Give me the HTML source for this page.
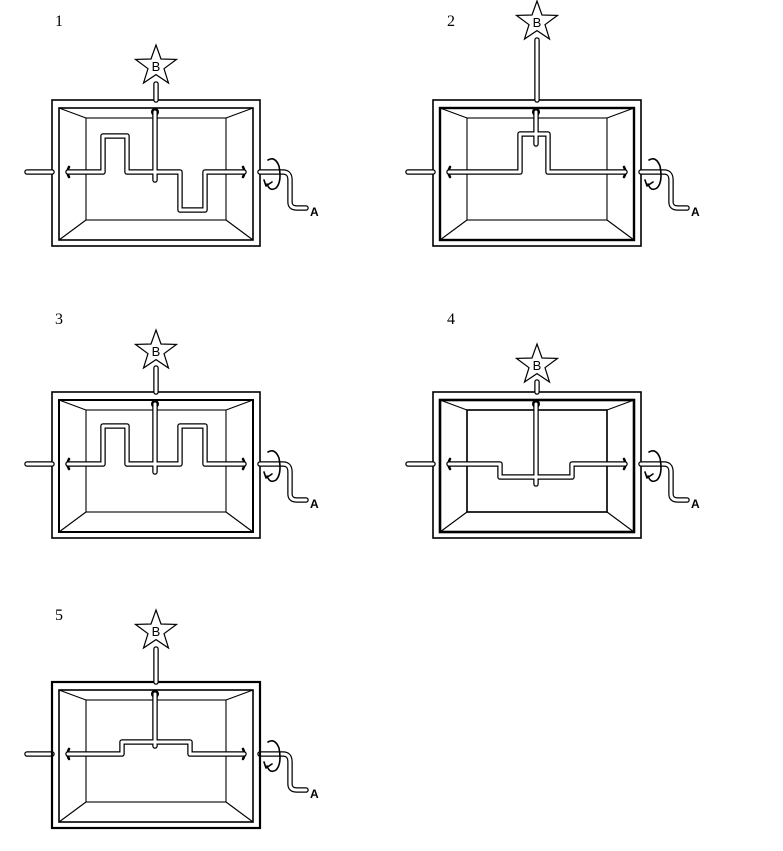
<!DOCTYPE html>
<html><head><style>body{margin:0;background:#fff}svg{display:block}</style></head><body>
<svg width="783" height="851" viewBox="0 0 783 851" xmlns="http://www.w3.org/2000/svg">
<defs>
<g id="frame">
<rect x="52" y="100" width="208" height="146" fill="none" stroke="#000" stroke-width="1.6"/>
<rect x="59" y="108" width="194" height="132" fill="none" stroke="#000" stroke-width="1.6"/>
<rect x="86" y="118" width="140" height="102" fill="none" stroke="#000" stroke-width="1.1"/>
<path d="M59 108L86 118M253 108L226 118M59 240L86 220M253 240L226 220" stroke="#000" stroke-width="1.1"/>
<g fill="none" stroke-linecap="round" stroke-linejoin="round">
<path d="M27 172H52M260 172H283Q290 172 290 180V202Q290 208 297 208H306" stroke="#000" stroke-width="5.5"/>
<path d="M27 172H52M260 172H283Q290 172 290 180V202Q290 208 297 208H306" stroke="#fff" stroke-width="3"/>
<path d="M69 167Q66 172 69 177M243 167Q246 172 243 177" stroke="#000" stroke-width="2.5"/>
<path d="M268 160Q275 156 279 166Q282 182 276 188Q270 192 267 184" stroke="#000" stroke-width="1.6"/>
<path d="M264 180L266 186L272 182" stroke="#000" stroke-width="1.6"/>
</g>
<circle cx="155" cy="112" r="4" fill="#000"/>
<text x="310" y="216" font-family="Liberation Sans, sans-serif" font-size="12" font-weight="bold">A</text>
</g>
<g id="star">
<polygon points="0,-21 5,-7 20.5,-6.6 8,2.7 12.5,17 0,8.6 -12.5,17 -8,2.7 -20.5,-6.6 -5,-7" fill="#fff" stroke="#000" stroke-width="1.2"/>
<text x="0" y="5" text-anchor="middle" font-family="Liberation Sans, sans-serif" font-size="13">B</text>
</g>
</defs>
<g font-family="Liberation Serif, serif" font-size="16">
<text x="55" y="26">1</text><text x="447" y="26">2</text>
<text x="55" y="324">3</text><text x="447" y="324">4</text>
<text x="55" y="620">5</text>
</g>

<g>
<use href="#frame"/>
<g fill="none" stroke-linejoin="round" stroke-linecap="round">
<g stroke="#000" stroke-width="5.5"><path d="M156 84V100"/><path d="M68 172H103V136H127V172H180V210H205V172H244"/><path d="M155 112V180"/></g>
<g stroke="#fff" stroke-width="3"><path d="M156 84V100"/><path d="M68 172H103V136H127V172H180V210H205V172H244"/><path d="M155 112V180"/></g>
</g>
<use href="#star" x="156" y="66"/>
</g>

<g transform="translate(381,0)">
<use href="#frame"/>
<rect x="59" y="108" width="194" height="132" fill="none" stroke="#000" stroke-width="2.4"/>
<g fill="none" stroke-linejoin="round" stroke-linecap="round">
<g stroke="#000" stroke-width="5.5"><path d="M156 40V100"/><path d="M68 172H139V134H167V172H244"/><path d="M155 112V144"/></g>
<g stroke="#fff" stroke-width="3"><path d="M156 40V100"/><path d="M68 172H139V134H167V172H244"/><path d="M155 112V144"/></g>
</g>
<use href="#star" x="156" y="22"/>
</g>

<g transform="translate(0,292)">
<use href="#frame"/>
<rect x="59" y="108" width="194" height="132" fill="none" stroke="#000" stroke-width="2"/>
<g fill="none" stroke-linejoin="round" stroke-linecap="round">
<g stroke="#000" stroke-width="5.5"><path d="M156 76V100"/><path d="M68 172H103V134H127V172H180V134H205V172H244"/><path d="M155 112V180"/></g>
<g stroke="#fff" stroke-width="3"><path d="M156 76V100"/><path d="M68 172H103V134H127V172H180V134H205V172H244"/><path d="M155 112V180"/></g>
</g>
<use href="#star" x="156" y="59"/>
</g>

<g transform="translate(381,292)">
<use href="#frame"/>
<rect x="59" y="108" width="194" height="132" fill="none" stroke="#000" stroke-width="2.6"/>
<rect x="86" y="118" width="140" height="102" fill="none" stroke="#000" stroke-width="1.6"/>
<g fill="none" stroke-linejoin="round" stroke-linecap="round">
<g stroke="#000" stroke-width="5.5"><path d="M156 90V100"/><path d="M68 172H119V185H191V172H244"/><path d="M155 112V192"/></g>
<g stroke="#fff" stroke-width="3"><path d="M156 90V100"/><path d="M68 172H119V185H191V172H244"/><path d="M155 112V192"/></g>
</g>
<use href="#star" x="156" y="73"/>
</g>

<g transform="translate(0,582)">
<use href="#frame"/>
<rect x="52" y="100" width="208" height="146" fill="none" stroke="#000" stroke-width="2.2"/>
<g fill="none" stroke-linejoin="round" stroke-linecap="round">
<g stroke="#000" stroke-width="5.5"><path d="M156 67V100"/><path d="M68 172H122V160H190V172H244"/><path d="M155 112V164"/></g>
<g stroke="#fff" stroke-width="3"><path d="M156 67V100"/><path d="M68 172H122V160H190V172H244"/><path d="M155 112V164"/></g>
</g>
<use href="#star" x="156" y="49"/>
</g>
</svg>
</body></html>
